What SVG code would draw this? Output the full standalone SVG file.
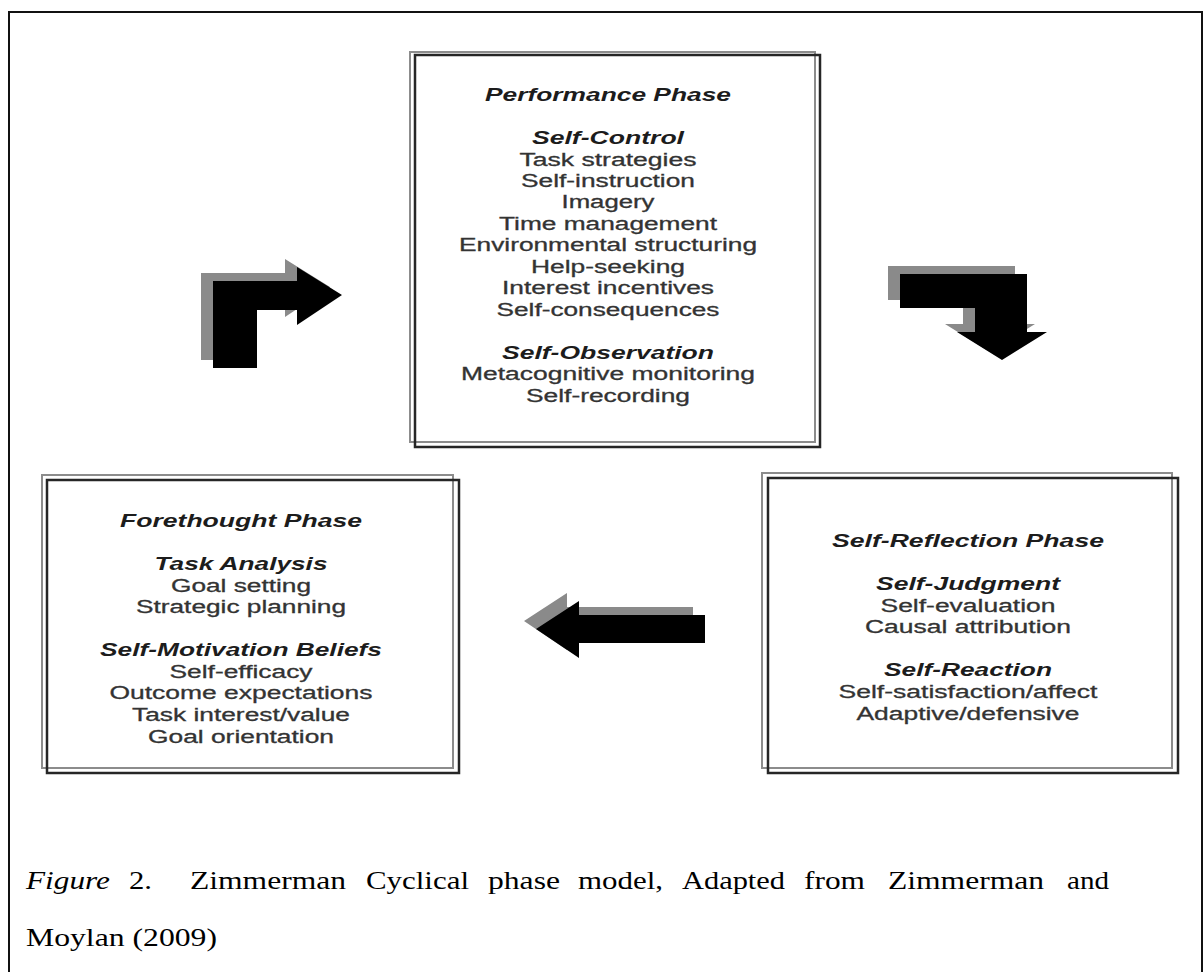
<svg xmlns="http://www.w3.org/2000/svg" width="1204" height="972" viewBox="0 0 1204 972">
  <style>
    .frame-back { fill: none; stroke: #8c8c8c; stroke-width: 2; }
    .frame-front { fill: none; stroke: #262626; stroke-width: 2.5; }
    .head { font-family: "Liberation Sans", Arial, sans-serif; font-size: 18px; font-weight: bold; font-style: italic; fill: #1c1c1c; text-anchor: middle; }
    .item { font-family: "Liberation Sans", Arial, sans-serif; font-size: 18px; fill: #333; stroke: #333; stroke-width: 0.3; text-anchor: middle; }
    .cap { font-family: "Liberation Serif", "Times New Roman", serif; font-size: 25px; fill: #000; }
    .arrow-back { fill: #8a8a8a; }
    .arrow-front { fill: #000; }
  </style>

  <rect x="0" y="0" width="1204" height="972" fill="#fff"/>

  <!-- outer page frame (open at the bottom) -->
  <path d="M9,972 V12 H1202 V972" fill="none" stroke="#111" stroke-width="2"/>

  <!-- Performance Phase -->
  <g id="performance-phase">
    <rect class="frame-back" x="410" y="52" width="405" height="390"/>
    <rect class="frame-front" x="415" y="55" width="405" height="392"/>
    <text class="head" x="608" y="101" textLength="246" lengthAdjust="spacingAndGlyphs">Performance Phase</text>
    <text class="head" x="608" y="144" textLength="152" lengthAdjust="spacingAndGlyphs">Self-Control</text>
    <text class="item" x="608" y="166" textLength="177" lengthAdjust="spacingAndGlyphs">Task strategies</text>
    <text class="item" x="608" y="187" textLength="174" lengthAdjust="spacingAndGlyphs">Self-instruction</text>
    <text class="item" x="608" y="208" textLength="93" lengthAdjust="spacingAndGlyphs">Imagery</text>
    <text class="item" x="608" y="230" textLength="218" lengthAdjust="spacingAndGlyphs">Time management</text>
    <text class="item" x="608" y="251" textLength="298" lengthAdjust="spacingAndGlyphs">Environmental structuring</text>
    <text class="item" x="608" y="273" textLength="154" lengthAdjust="spacingAndGlyphs">Help-seeking</text>
    <text class="item" x="608" y="294" textLength="212" lengthAdjust="spacingAndGlyphs">Interest incentives</text>
    <text class="item" x="608" y="316" textLength="223" lengthAdjust="spacingAndGlyphs">Self-consequences</text>
    <text class="head" x="608" y="359" textLength="212" lengthAdjust="spacingAndGlyphs">Self-Observation</text>
    <text class="item" x="608" y="380" textLength="294" lengthAdjust="spacingAndGlyphs">Metacognitive monitoring</text>
    <text class="item" x="608" y="402" textLength="164" lengthAdjust="spacingAndGlyphs">Self-recording</text>
  </g>

  <!-- Forethought Phase -->
  <g id="forethought-phase">
    <rect class="frame-back" x="42" y="475" width="411" height="293"/>
    <rect class="frame-front" x="47" y="480" width="412" height="293"/>
    <text class="head" x="241" y="527" textLength="242" lengthAdjust="spacingAndGlyphs">Forethought Phase</text>
    <text class="head" x="241" y="570" textLength="173" lengthAdjust="spacingAndGlyphs">Task Analysis</text>
    <text class="item" x="241" y="592" textLength="140" lengthAdjust="spacingAndGlyphs">Goal setting</text>
    <text class="item" x="241" y="613" textLength="210" lengthAdjust="spacingAndGlyphs">Strategic planning</text>
    <text class="head" x="241" y="656" textLength="282" lengthAdjust="spacingAndGlyphs">Self-Motivation Beliefs</text>
    <text class="item" x="241" y="678" textLength="143" lengthAdjust="spacingAndGlyphs">Self-efficacy</text>
    <text class="item" x="241" y="699" textLength="263" lengthAdjust="spacingAndGlyphs">Outcome expectations</text>
    <text class="item" x="241" y="721" textLength="218" lengthAdjust="spacingAndGlyphs">Task interest/value</text>
    <text class="item" x="241" y="743" textLength="186" lengthAdjust="spacingAndGlyphs">Goal orientation</text>
  </g>

  <!-- Self-Reflection Phase -->
  <g id="self-reflection-phase">
    <rect class="frame-back" x="762" y="473" width="410" height="295"/>
    <rect class="frame-front" x="768" y="478" width="410" height="295"/>
    <text class="head" x="968" y="547" textLength="272" lengthAdjust="spacingAndGlyphs">Self-Reflection Phase</text>
    <text class="head" x="968" y="590" textLength="184" lengthAdjust="spacingAndGlyphs">Self-Judgment</text>
    <text class="item" x="968" y="612" textLength="175" lengthAdjust="spacingAndGlyphs">Self-evaluation</text>
    <text class="item" x="968" y="633" textLength="206" lengthAdjust="spacingAndGlyphs">Causal attribution</text>
    <text class="head" x="968" y="676" textLength="168" lengthAdjust="spacingAndGlyphs">Self-Reaction</text>
    <text class="item" x="968" y="698" textLength="259" lengthAdjust="spacingAndGlyphs">Self-satisfaction/affect</text>
    <text class="item" x="968" y="720" textLength="223" lengthAdjust="spacingAndGlyphs">Adaptive/defensive</text>
  </g>

  <!-- block arrows between the phases, each with a grey offset copy behind -->
  <g id="connectors">
    <defs>
      <polygon id="bend-up-right" points="213,281 297,281 297,267 342,295 297,325 297,310 257,310 257,368 213,368"/>
      <polygon id="bend-right-down" points="900,274 1027,274 1027,332 1047,332 1002,360 957,332 975,332 975,308 900,308"/>
      <polygon id="arrow-left" points="536,629 579,601 579,615 705,615 705,643 579,643 579,658"/>
    </defs>
    <use href="#bend-up-right" class="arrow-back" transform="translate(-12,-8)"/>
    <use href="#bend-up-right" class="arrow-front"/>
    <use href="#bend-right-down" class="arrow-back" transform="translate(-12,-8)"/>
    <use href="#bend-right-down" class="arrow-front"/>
    <use href="#arrow-left" class="arrow-back" transform="translate(-12,-8)"/>
    <use href="#arrow-left" class="arrow-front"/>
  </g>

  <!-- caption: justified first line, each word set to its printed width -->
  <g id="caption">
    <text class="cap" y="889">
      <tspan x="26" font-style="italic" textLength="84" lengthAdjust="spacingAndGlyphs">Figure</tspan>
      <tspan x="129" textLength="23" lengthAdjust="spacingAndGlyphs">2.</tspan>
      <tspan x="190" textLength="156" lengthAdjust="spacingAndGlyphs">Zimmerman</tspan>
      <tspan x="366" textLength="103" lengthAdjust="spacingAndGlyphs">Cyclical</tspan>
      <tspan x="488" textLength="72" lengthAdjust="spacingAndGlyphs">phase</tspan>
      <tspan x="578" textLength="85" lengthAdjust="spacingAndGlyphs">model,</tspan>
      <tspan x="682" textLength="103" lengthAdjust="spacingAndGlyphs">Adapted</tspan>
      <tspan x="804" textLength="61" lengthAdjust="spacingAndGlyphs">from</tspan>
      <tspan x="888" textLength="156" lengthAdjust="spacingAndGlyphs">Zimmerman</tspan>
      <tspan x="1067" textLength="42" lengthAdjust="spacingAndGlyphs">and</tspan>
    </text>
    <text class="cap" x="26" y="946" textLength="191" lengthAdjust="spacingAndGlyphs">Moylan (2009)</text>
  </g>
</svg>
